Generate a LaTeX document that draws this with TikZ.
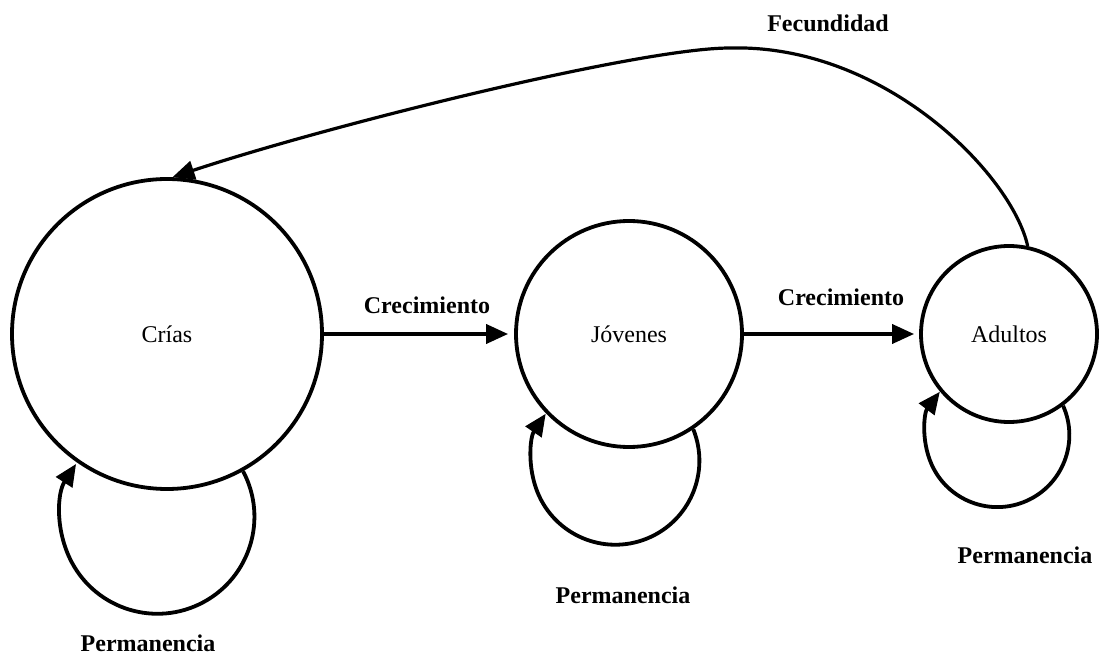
\documentclass[tikz,border=0pt]{standalone}
\usepackage{fontspec}
\setmainfont{Liberation Serif}
\usetikzlibrary{arrows.meta}
\begin{document}
\begin{tikzpicture}[x=1pt,y=1pt,>={Triangle[length=22pt,width=19pt]},font=\fontsize{24}{28}\selectfont,
	estado/.style={circle,draw,line width=3.8pt,inner sep=0pt},
	flecha/.style={->,line width=3.8pt},
	etiqueta/.style={font=\fontsize{24}{28}\selectfont\bfseries}]
		\useasboundingbox (0,0) rectangle (1099,656);
		\node[estado,minimum size=310pt] (crias) at (167,322) {Crías};
		\node[estado,minimum size=226pt] (jovenes) at (629,322) {Jóvenes};
		\node[estado,minimum size=176pt] (adultos) at (1009,322) {Adultos};
		\draw[flecha,shorten >=6pt] (crias) -- (jovenes);
		\draw[flecha,shorten >=5pt] (jovenes) -- (adultos);
		\node[etiqueta] (crec1) at (427,351) {Crecimiento};
		\node[etiqueta] (crec2) at (841,359) {Crecimiento};
		% permanencia
		\draw[flecha] (crias.-61) arc[start angle=28,end angle=-213,radius=97];
		\draw[flecha] (jovenes.-56) arc[start angle=22,end angle=-214,radius=84];
		\draw[flecha] (adultos.-53) arc[start angle=24,end angle=-217,radius=72];
		\node[etiqueta] (perm1) at (148,13) {Permanencia};
		\node[etiqueta] (perm2) at (623,61) {Permanencia};
		\node[etiqueta] (perm3) at (1025,101) {Permanencia};
		% fecundidad
		\draw[flecha,line width=3.2pt] (adultos.78) .. controls (1012,481) and (885,612) .. (730,608)
			.. controls (640,608) and (330,531) .. (crias.88);
		\node[etiqueta] (fecund) at (828,633) {Fecundidad};
	\end{tikzpicture}
\end{document}
